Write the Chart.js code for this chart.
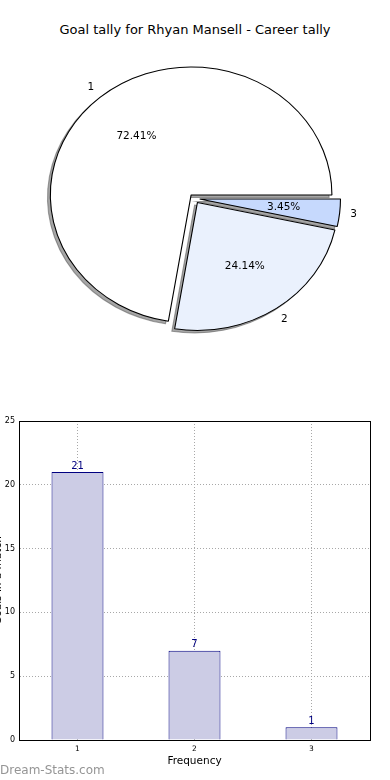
<!DOCTYPE html>
<html>
<head>
<meta charset="utf-8">
<script src="https://cdn.jsdelivr.net/npm/chart.js@4/dist/chart.umd.js"></script>
<style>
html, body { margin: 0; padding: 0; background: #fff; width: 390px; height: 780px; overflow: hidden; position: relative; font-family: "DejaVu Sans", sans-serif; }
#title { position: absolute; top: 22px; left: 0; width: 390px; text-align: center; font-size: 13px; color: #000; }
#pieBox { position: absolute; left: 0; top: 0; width: 390px; height: 390px; }
#barBox { position: absolute; left: -12px; top: 400px; width: 402px; height: 380px; }
#mark { position: absolute; left: 0; top: 763px; font-size: 12px; color: #959595; }
</style>
</head>
<body>
<div id="title">Goal tally for Rhyan Mansell - Career tally</div>
<div id="pieBox"><canvas id="pieChart"></canvas></div>
<div id="barBox"><canvas id="barChart"></canvas></div>
<div id="mark">Dream-Stats.com</div>
<script>
// goals scored in a match -> number of matches
const goalLabels = ["1", "2", "3"];
const matchCounts = [21, 7, 1];
const yTicks = [0, 5, 10, 15, 20, 25];

const FONT = "'DejaVu Sans', sans-serif";
const SX = 1.1; // the pie is drawn as a slightly wide ellipse

// pie goes clockwise from east, so reverse the order (matplotlib goes anticlockwise)
const pieLabels = goalLabels.slice().reverse();
const pieValues = matchCounts.slice().reverse();
const total = matchCounts.reduce((a, b) => a + b, 0);

const pieLook = {
    id: "pieLook",
    beforeDatasetsDraw(chart) {
        const ctx = chart.ctx;
        const meta = chart.getDatasetMeta(0);
        const ex = chart.data.datasets[0].explode;
        const c = meta.data[0];
        ctx.save();
        ctx.translate(c.x, c.y);
        ctx.scale(SX, 1);
        ctx.translate(-c.x, -c.y);
        // shadows first, under every wedge
        meta.data.forEach((arc, i) => {
            const mid = (arc.startAngle + arc.endAngle) / 2;
            const r = arc.outerRadius;
            const d = ex[i] * r;
            const x = arc.x + Math.cos(mid) * d - 0.02 * r;
            const y = arc.y + Math.sin(mid) * d + 0.02 * r;
            ctx.beginPath();
            ctx.moveTo(x, y);
            ctx.arc(x, y, r, arc.startAngle, arc.endAngle);
            ctx.closePath();
            ctx.fillStyle = "rgba(77,77,77,0.5)";
            ctx.fill();
            ctx.strokeStyle = "rgba(77,77,77,0.5)";
            ctx.lineWidth = 1;
            ctx.stroke();
            arc.$explode = ex[i];
            if (!arc.$wrapped) {
                const base = Object.getPrototypeOf(arc).draw;
                arc.draw = function (cx) {
                    const m = (this.startAngle + this.endAngle) / 2;
                    const dd = this.$explode * this.outerRadius;
                    cx.save();
                    cx.translate(Math.cos(m) * dd, Math.sin(m) * dd);
                    base.call(this, cx);
                    cx.restore();
                };
                arc.$wrapped = true;
            }
        });
    },
    afterDatasetsDraw(chart) {
        const ctx = chart.ctx;
        ctx.restore();
        const meta = chart.getDatasetMeta(0);
        const ex = chart.data.datasets[0].explode;
        ctx.save();
        ctx.font = "10.5px " + FONT;
        ctx.fillStyle = "#000";
        ctx.textAlign = "center";
        ctx.textBaseline = "middle";
        meta.data.forEach((arc, i) => {
            const mid = (arc.startAngle + arc.endAngle) / 2;
            const r = arc.outerRadius;
            const d = ex[i] * r;
            const put = (f, txt) => {
                const x = arc.x + Math.cos(mid) * (d + f * r) * SX;
                const y = arc.y + Math.sin(mid) * (d + f * r);
                ctx.fillText(txt, x, y);
            };
            put(0.6, (pieValues[i] / total * 100).toFixed(2) + "%");
            put(1.1, pieLabels[i]);
        });
        ctx.restore();
    }
};

new Chart(document.getElementById("pieChart"), {
    type: "pie",
    data: {
        labels: pieLabels,
        datasets: [{
            data: pieValues,
            backgroundColor: ["#c6d9fd", "#eaf1fd", "#ffffff"],
            borderColor: "#000",
            borderWidth: 1,
            explode: [0.037, 0.037, 0.037]
        }]
    },
    options: {
        responsive: true,
        maintainAspectRatio: false,
        animation: false,
        events: [],
        rotation: 90,
        radius: 128,
        layout: { padding: { right: 1, top: 7 } },
        plugins: { legend: { display: false }, tooltip: { enabled: false } }
    },
    plugins: [pieLook]
});

const barExtras = {
    id: "barExtras",
    afterDraw(chart) {
        const ctx = chart.ctx;
        const a = chart.chartArea;
        ctx.save();
        ctx.strokeStyle = "#000";
        ctx.lineWidth = 1;
        ctx.strokeRect(Math.round(a.left) + 0.5, Math.round(a.top) + 0.5, Math.round(a.right - a.left), Math.round(a.bottom - a.top));
        ctx.font = "10px " + FONT;
        ctx.fillStyle = "#000080";
        ctx.textAlign = "center";
        ctx.textBaseline = "bottom";
        chart.getDatasetMeta(0).data.forEach((bar, i) => {
            ctx.fillText(String(matchCounts[i]), bar.x, bar.y - 1);
        });
        ctx.restore();
    }
};

new Chart(document.getElementById("barChart"), {
    type: "bar",
    data: {
        labels: goalLabels,
        datasets: [{
            data: matchCounts,
            backgroundColor: "#ccccE5",
            borderColor: "#000080",
            borderWidth: 1,
            barPercentage: 0.444,
            categoryPercentage: 1
        }]
    },
    options: {
        responsive: true,
        maintainAspectRatio: false,
        animation: false,
        events: [],
        layout: { padding: { top: 21, right: 20, left: 0, bottom: 0 } },
        plugins: { legend: { display: false }, tooltip: { enabled: false } },
        scales: {
            x: {
                z: 1,
                grid: { offset: false, color: "#a8a8a8", drawTicks: false },
                border: { color: "#000", dash: [1, 2] },
                ticks: { color: "#000", font: { size: 7.5, family: FONT }, padding: 5 },
                title: { display: true, text: "Frequency", color: "#000", font: { size: 10.5, family: FONT }, padding: { top: 0, bottom: 12 } },
                afterFit: s => { s.height = 40; }
            },
            y: {
                z: 1,
                min: 0,
                max: 25,
                afterBuildTicks: s => { s.ticks = yTicks.map(v => ({ value: v })); },
                grid: { color: "#a8a8a8", drawTicks: false },
                border: { color: "#000", dash: [1, 2] },
                ticks: { color: "#000", font: { size: 8, family: FONT }, padding: 4 },
                title: { display: true, text: "Goals in a match", color: "#000", font: { size: 10.5, family: FONT }, padding: { top: 3.5, bottom: 0 } },
                afterFit: s => { s.width = 31; }
            }
        }
    },
    plugins: [barExtras]
});
</script>
</body>
</html>
